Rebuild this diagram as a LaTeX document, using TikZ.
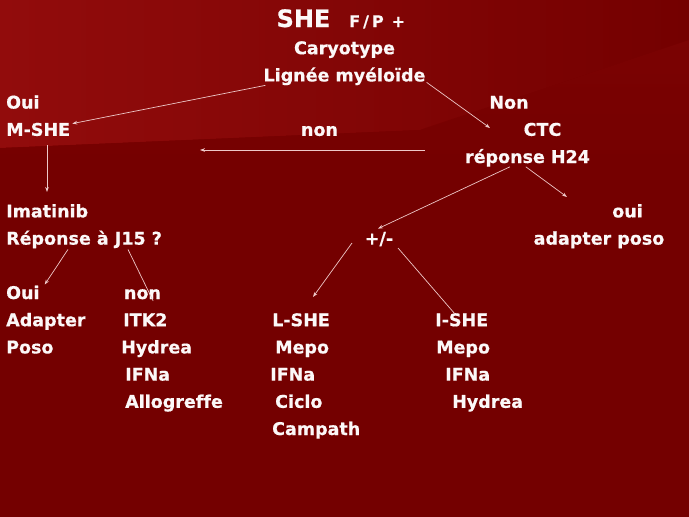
\documentclass[tikz,border=0pt]{standalone}
\usepackage{fontspec}
\setmainfont{DejaVu Sans}[Ligatures=NoCommon, BoldFeatures={FakeBold=0.6}]
\usetikzlibrary{arrows.meta}
\definecolor{bgbase}{RGB}{116,0,0}
\definecolor{bglight}{RGB}{146,12,12}
\definecolor{txtc}{RGB}{252,248,248}
\definecolor{arrc}{RGB}{238,200,200}
\begin{document}
\begin{tikzpicture}[x=1pt,y=-1pt,
  txt/.style={text=txtc, inner sep=0pt, font=\fontsize{17.5}{20}\selectfont\bfseries},
  lw/.style={txt, anchor=base west},
  cb/.style={txt, anchor=base},
  arr/.style={draw=arrc, line width=0.7pt, -{Stealth[length=5pt,width=3.6pt]}},
  ln/.style={draw=arrc, line width=0.7pt}]
% background
\fill[bgbase] (0,0) rectangle (689,517);
\shade[left color=bglight, right color=bgbase] (0,0) -- (689,0) -- (689,40) -- (420,130) -- (0,148) -- cycle;
\shade[top color=bgbase!60!bglight, bottom color=bgbase, opacity=0.6] (0,148) -- (420,130) -- (689,40) -- (689,200) -- (0,200) -- cycle;
\useasboundingbox (0,0) rectangle (689,517);

% row baselines: 27 + 27.2 r
\node[cb, font=\fontsize{24}{28}\selectfont\bfseries] (she) at (303.5,27) {SHE};
\node[txt, anchor=base west, font=\fontsize{16}{18}\selectfont\bfseries] (fp) at (349,27) {F\kern3pt/\kern3pt P\hspace{8pt}+};
\node[cb] (caryo) at (344.5,54.2) {Caryotype};
\node[cb] (lignee) at (344.5,81.4) {Lignée myéloïde};
\node[lw] (oui1) at (6,108.6) {Oui};
\node[cb] (non1) at (509,108.6) {Non};
\node[lw] (mshe) at (6,135.8) {M-SHE};
\node[cb] (non2) at (319.5,135.8) {non};
\node[cb] (ctc) at (542.5,135.8) {CTC};
\node[cb] (reponse) at (527.5,163) {réponse H24};
\node[lw] (imatinib) at (6,217.4) {Imatinib};
\node[cb] (oui2) at (627.5,217.4) {oui};
\node[lw] (j15) at (6,244.6) {Réponse à J15 ?};
\node[cb] (pm) at (379,244.6) {+/-};
\node[cb] (poso1) at (599,244.6) {adapter poso};
\node[lw] (oui3) at (6,299) {Oui};
\node[cb] (non3) at (142.5,299) {non};
\node[lw] (adapter) at (6,326.2) {Adapter};
\node[lw] (itk) at (123,326.2) {ITK2};
\node[lw] (lshe) at (272,326.2) {L-SHE};
\node[lw] (ishe) at (435,326.2) {I-SHE};
\node[lw] (poso2) at (6,353.4) {Poso};
\node[lw] (hydrea1) at (121,353.4) {Hydrea};
\node[lw] (mepo1) at (275,353.4) {Mepo};
\node[lw] (mepo2) at (436,353.4) {Mepo};
\node[lw] (ifn1) at (125,380.6) {IFNa};
\node[lw] (ifn2) at (270,380.6) {IFNa};
\node[lw] (ifn3) at (445,380.6) {IFNa};
\node[lw] (allo) at (125,407.8) {Allogreffe};
\node[lw] (ciclo) at (275,407.8) {Ciclo};
\node[lw] (hydrea2) at (452,407.8) {Hydrea};
\node[lw] (campath) at (272,435) {Campath};

% free ends
\coordinate (tipctc) at (490,128);
\coordinate (hstart) at (425,150);
\coordinate (hend) at (200,150);
\coordinate (vstart) at (47,145);
\coordinate (vend) at (47,192);
\coordinate (tipoui) at (567,197);
\coordinate (pmleft) at (352,243);
\coordinate (tiplshe) at (313,297);
\coordinate (pmright) at (398,248);

% connectors
\draw[arr] ([xshift=2]lignee.south west) -- ([xshift=2,yshift=-1]mshe.north east);
\draw[arr] ([shift={(1,-3)}]lignee.south east) -- (tipctc);
\draw[arr] (hstart) -- (hend);
\draw[arr] (vstart) -- (vend);
\draw[arr] ([xshift=45]reponse.south west) -- ([shift={(-1,-3)}]pm.north);
\draw[arr] ([xshift=61]reponse.south west) -- (tipoui);
\draw[arr] ([xshift=62,yshift=-1]j15.south west) -- ([shift={(5,-1)}]oui3.north east);
\draw[ln] ([xshift=122,yshift=-1]j15.south west) -- ([shift={(-8,2)}]non3.base east);
\draw[arr] (pmleft) -- (tiplshe);
\draw[ln] (pmright) -- ([shift={(20,1)}]ishe.north west);
\end{tikzpicture}
\end{document}
